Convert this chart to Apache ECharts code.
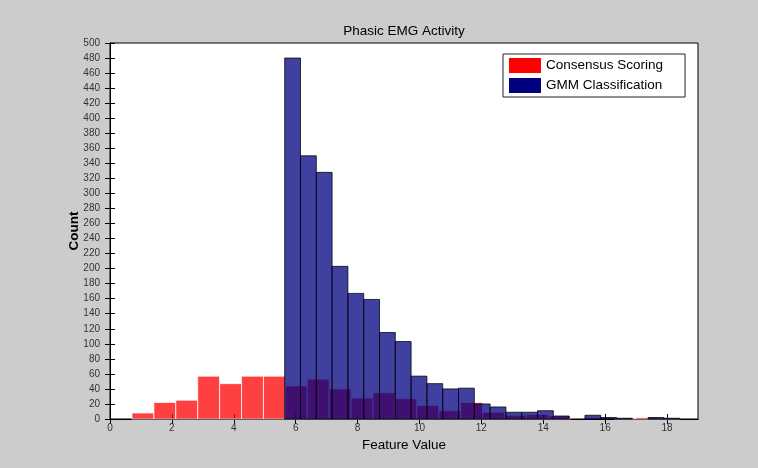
<!DOCTYPE html>
<html>
<head>
<meta charset="utf-8">
<script src="https://cdn.jsdelivr.net/npm/echarts@6/dist/echarts.min.js"></script>
<style>
  html, body { margin: 0; padding: 0; background: #cccccc; }
  #main { width: 758px; height: 468px; }
</style>
</head>
<body>
<div id="main"></div>
<script>
// histogram bins: first left edge and bin width (feature value units)
const redBinStart = 0.71;
const redBinWidth = 0.708;
const blueBinStart = 5.645;
const blueBinWidth = 0.5106;

// counts per bin
const consensusCounts = [8, 22, 25, 57, 47, 57, 57, 44, 53, 40, 28, 35, 27, 18, 11, 22, 9, 5, 6, 4, 0, 0, 1, 2, 1];
const gmmCounts = [480, 350, 328, 203, 167, 159, 115, 103, 57, 47, 40, 41, 20, 16, 9, 9, 11, 4, 0, 5, 2, 1, 0, 2, 1];

const xTicks = [0, 2, 4, 6, 8, 10, 12, 14, 16, 18];

function toBins(start, width, counts) {
  return counts.map(function (c, i) {
    return [start + i * width, start + (i + 1) * width, c];
  });
}

function histItem(fill, stroke) {
  return function (params, api) {
    if (api.value(2) <= 0) return null;
    const p0 = api.coord([api.value(0), api.value(2)]);
    const p1 = api.coord([api.value(1), 0]);
    return {
      type: 'rect',
      shape: { x: p0[0], y: p0[1], width: p1[0] - p0[0], height: p1[1] - p0[1] },
      style: { fill: fill, stroke: stroke, lineWidth: 1 }
    };
  };
}

const chart = echarts.init(document.getElementById('main'));
const labelFont = { color: '#333', fontFamily: 'Liberation Sans', fontSize: 10 };

const option = {
  backgroundColor: '#cccccc',
  animation: false,
  title: {
    text: 'Phasic EMG Activity',
    left: 404,
    textAlign: 'center',
    top: 24,
    padding: 0,
    textStyle: { color: '#000', fontFamily: 'Liberation Sans', fontSize: 13.5, fontWeight: 'normal' }
  },
  legend: {
    orient: 'vertical',
    left: 503,
    top: 54,
    padding: [4, 22, 4, 6],
    itemGap: 5,
    itemWidth: 32,
    itemHeight: 15,
    backgroundColor: '#fff',
    borderColor: '#222',
    borderWidth: 1,
    borderRadius: 0,
    textStyle: { color: '#000', fontFamily: 'Liberation Sans', fontSize: 13.5 },
    data: [
      { name: 'Consensus Scoring', icon: 'rect', itemStyle: { color: '#ff0000', opacity: 1 } },
      { name: 'GMM Classification', icon: 'rect', itemStyle: { color: '#000080', opacity: 1 } }
    ]
  },
  grid: { left: 110, top: 43, right: 60, bottom: 49, show: true, backgroundColor: '#fff', borderColor: '#000', borderWidth: 1 },
  xAxis: [{
    type: 'value',
    min: 0, max: 19, interval: 2,
    name: 'Feature Value',
    nameLocation: 'middle',
    nameGap: 19,
    nameMoveOverlap: false,
    nameTextStyle: { color: '#000', fontFamily: 'Liberation Sans', fontSize: 13.5 },
    axisLine: { show: true, onZero: false, lineStyle: { color: '#000' } },
    axisTick: { show: true, inside: true, length: 5, lineStyle: { color: '#000' }, customValues: xTicks },
    axisLabel: Object.assign({ margin: 4, customValues: xTicks }, labelFont),
    splitLine: { show: false }
  }, {
    type: 'value',
    position: 'top',
    min: 0, max: 19, interval: 2,
    axisLine: { show: true, lineStyle: { color: '#000' } },
    axisTick: { show: true, inside: true, length: 5, lineStyle: { color: '#000' }, customValues: xTicks },
    axisLabel: { show: false },
    splitLine: { show: false }
  }],
  yAxis: [{
    type: 'value',
    min: 0, max: 500, interval: 20,
    name: 'Count',
    nameLocation: 'middle',
    nameGap: 29,
    nameMoveOverlap: false,
    nameTextStyle: { color: '#000', fontFamily: 'Liberation Sans', fontSize: 13.5, fontWeight: 'bold' },
    axisLine: { show: true, lineStyle: { color: '#000' } },
    axisTick: { show: true, inside: true, length: 5, lineStyle: { color: '#000' } },
    axisLabel: Object.assign({ margin: 10 }, labelFont),
    splitLine: { show: false }
  }, {
    type: 'value',
    position: 'right',
    min: 0, max: 500, interval: 20,
    axisLine: { show: true, lineStyle: { color: '#000' } },
    axisTick: { show: true, inside: true, length: 5, lineStyle: { color: '#000' } },
    axisLabel: { show: false },
    splitLine: { show: false }
  }],
  series: [{
    name: 'Consensus Scoring',
    type: 'custom',
    color: '#ff0000',
    renderItem: histItem('rgba(255,0,0,0.75)', 'rgba(255,255,255,0.75)'),
    encode: { x: [0, 1], y: 2 },
    data: toBins(redBinStart, redBinWidth, consensusCounts)
  }, {
    name: 'GMM Classification',
    type: 'custom',
    color: '#000080',
    renderItem: histItem('rgba(0,0,128,0.75)', 'rgba(0,0,0,0.75)'),
    encode: { x: [0, 1], y: 2 },
    data: toBins(blueBinStart, blueBinWidth, gmmCounts)
  }]
};

chart.setOption(option);
</script>
</body>
</html>
